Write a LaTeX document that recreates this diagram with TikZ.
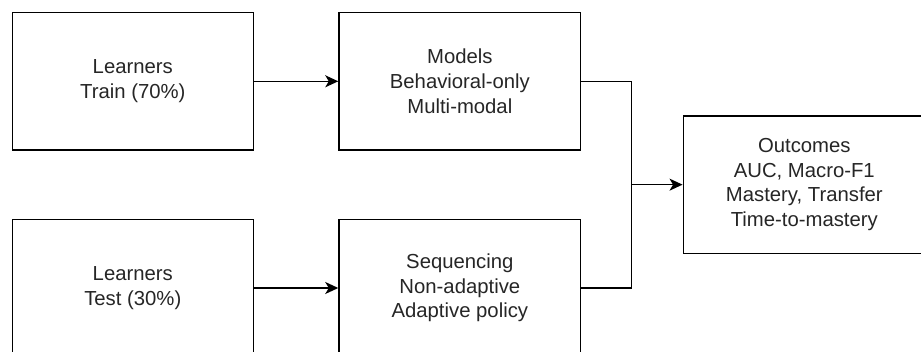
\documentclass[tikz,border=0pt]{standalone}
\usepackage{fontspec}
\setmainfont{Liberation Sans}
\usetikzlibrary{arrows.meta}
\begin{document}
\begin{tikzpicture}[x=1pt,y=-1pt,
  box/.style={draw=black, line width=1.5pt, fill=white, rectangle, align=center,
    inner sep=0pt, font=\fontsize{20.3}{24.7}\selectfont, text=black!85},
  conn/.style={draw=black, line width=1.5pt},
  arr/.style={conn, -{Stealth[length=13pt, width=12pt, inset=3.5pt]}}]
\useasboundingbox (0,0) rectangle (921,352);
\node[box, minimum width=241pt, minimum height=137.3pt] (A) at (132.8,81.3) {Learners\\Train (70\%)};
\node[box, minimum width=241.7pt, minimum height=137.3pt] (B) at (459.85,81.3) {Models\\Behavioral-only\\Multi-modal};
\node[box, minimum width=241pt, minimum height=137.3pt] (C) at (132.8,288) {Learners\\Test (30\%)};
\node[box, minimum width=241.7pt, minimum height=137.3pt] (D) at (459.85,288) {Sequencing\\Non-adaptive\\Adaptive policy};
\node[box, minimum width=242pt, minimum height=137.3pt] (E) at (804.3,184.65) {Outcomes\\AUC, Macro-F1\\Mastery, Transfer\\Time-to-mastery};
\coordinate (J) at (631.7,184.65);
\draw[arr] (A) -- (B);
\draw[arr] (C) -- (D);
\draw[conn] (B.east) -| (J);
\draw[conn] (D.east) -| (J);
\draw[arr] (J) -- (E.west);
\end{tikzpicture}
\end{document}
